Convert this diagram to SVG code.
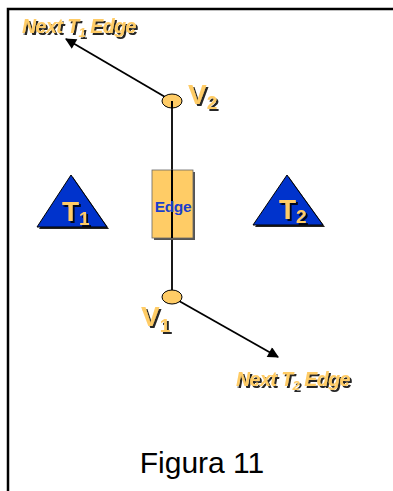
<svg xmlns="http://www.w3.org/2000/svg" width="393" height="491" viewBox="0 0 393 491">
<defs>
<style>
.lbl{font-family:"Liberation Sans",Arial,sans-serif;font-weight:bold;font-style:italic;font-size:19.5px;letter-spacing:-0.5px;fill:#FFCC66;filter:url(#shd)}
.v{font-family:"Liberation Sans",Arial,sans-serif;font-weight:bold;font-size:28px;fill:#FFCC66;filter:url(#shd)}
.conn{stroke:#000;stroke-width:1.8;fill:none}
.vert{fill:#FFCC66;stroke:#000;stroke-width:1}
.tri{fill:#0033CC;stroke:#000;stroke-width:1}
</style>
<filter id="shd" x="-10%" y="-10%" width="130%" height="140%">
<feOffset in="SourceAlpha" dx="1.5" dy="1.5" result="o"/>
<feComponentTransfer in="o" result="d"><feFuncA type="linear" slope="0.85"/></feComponentTransfer>
<feMerge><feMergeNode in="d"/><feMergeNode in="SourceGraphic"/></feMerge>
</filter>
<marker id="ah" viewBox="0 0 10 10" refX="9" refY="5" markerWidth="12" markerHeight="11" markerUnits="userSpaceOnUse" orient="auto">
<path d="M0,0 L10,5 L0,10 z" fill="#000"/>
</marker>
</defs>
<rect width="393" height="491" fill="#fff"/>
<path d="M8,491 V9 H393" fill="none" stroke="#000" stroke-width="2.5"/>
<g id="connectors">
<line class="conn" x1="172" y1="101" x2="172" y2="297"/>
<line class="conn" x1="172" y1="101" x2="66" y2="39" marker-end="url(#ah)"/>
<line class="conn" x1="172" y1="297" x2="278" y2="357" marker-end="url(#ah)"/>
</g>
<g id="edge">
<rect x="154" y="172" width="41" height="68" fill="#555"/>
<rect x="152" y="170" width="41" height="68" fill="#FFCC66" stroke="#666" stroke-width="0.8"/>
<line x1="172" y1="170" x2="172" y2="238" stroke="#000" stroke-width="2"/>
<text x="173" y="212" text-anchor="middle" font-family="Liberation Sans,Arial,sans-serif" font-weight="bold" font-size="15.5" fill="#1a3fcc" letter-spacing="-0.4">Edge</text>
</g>
<g id="v2">
<ellipse class="vert" cx="172" cy="101" rx="10" ry="7"/>
<line x1="172" y1="101" x2="172" y2="108" stroke="#000" stroke-width="2"/>
<text class="v" x="188" y="104" font-size="26">V<tspan font-size="19" dy="5">2</tspan></text>
</g>
<g id="v1">
<ellipse class="vert" cx="172" cy="297" rx="10" ry="7"/>
<text class="v" x="141" y="326" font-size="27">V<tspan font-size="19" dy="6">1</tspan></text>
</g>
<g id="t1">
<polygon points="73,177 109,229 39,229" fill="#222"/>
<polygon class="tri" points="71,175 107,227 37,227"/>
<text class="v" x="62" y="221">T<tspan font-size="19" dy="4">1</tspan></text>
</g>
<g id="t2">
<polygon points="289,177 325,227 255,227" fill="#222"/>
<polygon class="tri" points="287,175 323,225 253,225"/>
<text class="v" x="279" y="219">T<tspan font-size="19" dy="4">2</tspan></text>
</g>
<g id="next1">
<text class="lbl" x="22" y="33">Next T<tspan font-size="13" dy="4">1</tspan><tspan dy="-4"> Edge</tspan></text>
</g>
<g id="next2">
<text class="lbl" x="236" y="386">Next T<tspan font-size="13" dy="4">2</tspan><tspan dy="-4"> Edge</tspan></text>
</g>
<text x="202" y="473" text-anchor="middle" font-family="Liberation Sans,Arial,sans-serif" font-size="30" fill="#000">Figura 11</text>
</svg>
